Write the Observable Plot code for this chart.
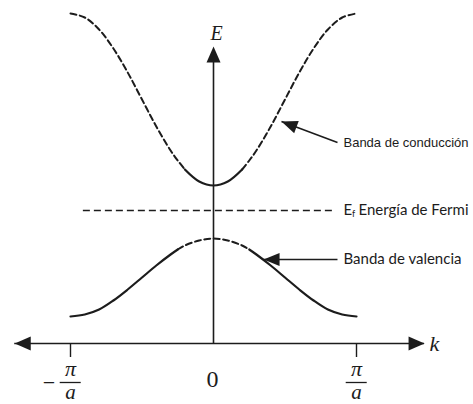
<!DOCTYPE html>
<html>
<head>
<meta charset="utf-8">
<script src="https://cdn.jsdelivr.net/npm/d3@7"></script>
<script src="https://cdn.jsdelivr.net/npm/@observablehq/plot@0.6"></script>
<style>
  html, body { margin: 0; padding: 0; background: #fff; }
</style>
</head>
<body>
<div id="chart"></div>
<script>
// Wave vector k, in units of π/a
const k = [-1, -0.9, -0.8, -0.7, -0.6, -0.5, -0.4, -0.3, -0.25, -0.2, -0.1, 0,
           0.1, 0.2, 0.25, 0.3, 0.4, 0.5, 0.6, 0.7, 0.8, 0.9, 1];
// Band energies (arbitrary units, k axis at E = 0)
const conduction = [3.30, 3.26, 3.14, 2.95, 2.71, 2.44, 2.17, 1.93, 1.83, 1.74, 1.62, 1.58,
                    1.62, 1.74, 1.83, 1.93, 2.17, 2.44, 2.71, 2.95, 3.14, 3.26, 3.30];
const valence = [0.27, 0.29, 0.34, 0.43, 0.54, 0.66, 0.78, 0.89, 0.94, 0.98, 1.03, 1.05,
                 1.03, 0.98, 0.94, 0.89, 0.78, 0.66, 0.54, 0.43, 0.34, 0.29, 0.27];
// |k| limits of the solid part of the conduction band and the dashed part of the valence band
const conductionSolidLimit = 0.2;
const valenceDashedLimit = 0.25;
// Fermi level and its extent in k
const fermiEnergy = 1.33;
const fermiSpan = [-0.91, 0.84];
// Axes extents
const kAxisSpan = [-1.39, 1.476];
const eAxisTop = 2.97;
// Zone-edge ticks
const zoneTicks = [-1, 1];
const centerTick = [0];
// Annotations
const annotationText = ["Banda de conducción", "Banda de valencia"];
const annotationE = [2.01, 0.84];
const annotationTipK = [0.4755, 0.35];
const annotationTipE = [2.22, 0.84];
const annotationTailK = 0.867;
const labelK = 0.909;

const W = 473, H = 404;
const xDomain = [-213 / 143, 260 / 143];
const yDomain = [-0.61, 3.43];
const pxPerK = W / (xDomain[1] - xDomain[0]);
const pxPerE = H / (yDomain[1] - yDomain[0]);
const ink = "#1c1c1c";

// Split a band into pieces so inner and outer parts can be styled differently
function pieces(values, limit, name) {
  const rows = [];
  k.forEach((kv, i) => {
    const E = values[i];
    if (kv <= -limit) rows.push({k: kv, E, seg: name + "L", part: "outer"});
    if (kv >= -limit && kv <= limit) rows.push({k: kv, E, seg: name + "C", part: "inner"});
    if (kv >= limit) rows.push({k: kv, E, seg: name + "R", part: "outer"});
  });
  return rows;
}
const cRows = pieces(conduction, conductionSolidLimit, "c");
const vRows = pieces(valence, valenceDashedLimit, "v");
const dashedRows = [...cRows.filter(d => d.part === "outer"), ...vRows.filter(d => d.part === "inner")];
const solidRows = [...cRows.filter(d => d.part === "inner"), ...vRows.filter(d => d.part === "outer")];

// Filled arrowhead with its tip at the origin, pointing up
function arrowhead(len, wid) {
  return {
    draw(context) {
      context.moveTo(0, 0);
      context.lineTo(wid / 2, len);
      context.lineTo(-wid / 2, len);
      context.closePath();
    }
  };
}
function heading(k0, e0, k1, e1) {
  const dx = (k1 - k0) * pxPerK;
  const dy = -(e1 - e0) * pxPerE;
  return Math.atan2(dx, -dy) * 180 / Math.PI;
}

const axisHeads = [
  {k: kAxisSpan[0], E: 0, rotate: -90},
  {k: kAxisSpan[1], E: 0, rotate: 90},
  {k: 0, E: eAxisTop, rotate: 0}
];
const annotations = annotationText.map((text, i) => ({
  text,
  E: annotationE[i],
  tipK: annotationTipK[i],
  tipE: annotationTipE[i],
  rotate: heading(annotationTailK, annotationE[i], annotationTipK[i], annotationTipE[i])
}));

const serif = "'Liberation Serif', 'DejaVu Serif', serif";
const humanist = "Lato, 'Open Sans', sans-serif";

const chart = Plot.plot({
  width: W,
  height: H,
  margin: 0,
  x: {domain: xDomain, axis: null},
  y: {domain: yDomain, axis: null},
  style: {background: "#fff"},
  marks: [
    // k axis and E axis
    Plot.ruleY([{E: 0, k1: kAxisSpan[0], k2: kAxisSpan[1]}], {y: "E", x1: "k1", x2: "k2", stroke: ink, strokeWidth: 1.6}),
    Plot.ruleX([{k: 0, e1: 0, e2: eAxisTop - 0.05}], {x: "k", y1: "e1", y2: "e2", stroke: ink, strokeWidth: 1.6}),
    Plot.dot(axisHeads, {x: "k", y: "E", rotate: "rotate", symbol: arrowhead(16, 14), r: 5, fill: ink, stroke: "none"}),
    // zone-edge ticks
    Plot.ruleX(zoneTicks, {x: d => d, y1: 0, y2: -0.14, stroke: ink, strokeWidth: 1.4}),
    // bands
    Plot.line(dashedRows, {x: "k", y: "E", z: "seg", curve: "catmull-rom", stroke: ink, strokeWidth: 2, strokeDasharray: "6,3.5"}),
    Plot.line(solidRows, {x: "k", y: "E", z: "seg", curve: "catmull-rom", stroke: ink, strokeWidth: 2.2}),
    // Fermi level
    Plot.ruleY([{E: fermiEnergy, k1: fermiSpan[0], k2: fermiSpan[1]}], {y: "E", x1: "k1", x2: "k2", stroke: ink, strokeWidth: 1.5, strokeDasharray: "7,4"}),
    // annotation arrows
    Plot.link(annotations, {x1: annotationTailK, y1: "E", x2: "tipK", y2: "tipE", stroke: ink, strokeWidth: 1.6}),
    Plot.dot(annotations, {x: "tipK", y: "tipE", rotate: "rotate", symbol: arrowhead(16, 13), r: 5, fill: ink, stroke: "none"}),
    // annotation labels
    Plot.text([annotations[0]], {x: labelK, y: "E", text: "text", textAnchor: "start", fontFamily: "'Liberation Sans', Arial, sans-serif", fontSize: 13, fill: ink}),
    Plot.text([annotations[1]], {x: labelK, y: "E", text: "text", textAnchor: "start", fontFamily: humanist, fontSize: 15, fill: ink}),
    Plot.text([fermiEnergy], {x: labelK, y: d => d, text: ["E"], textAnchor: "start", fontFamily: humanist, fontSize: 15, fill: ink}),
    Plot.text([fermiEnergy], {x: labelK, y: d => d, text: ["f"], dx: 8.5, dy: 4, textAnchor: "start", fontFamily: humanist, fontSize: 9, fill: ink}),
    Plot.text([fermiEnergy], {x: labelK, y: d => d, text: ["Energía de Fermi"], dx: 15, textAnchor: "start", fontFamily: humanist, fontSize: 15, fill: ink}),
    // axis titles
    Plot.text(["E"], {x: 0, y: 3.10, text: d => d, dx: 3, fontFamily: serif, fontStyle: "italic", fontSize: 20, fill: ink}),
    Plot.text(["k"], {x: 1.545, y: 0, text: d => d, fontFamily: serif, fontStyle: "italic", fontSize: 22, fill: ink}),
    // tick labels: ±π/a and 0
    Plot.text(zoneTicks, {x: d => d, y: -0.255, text: () => "π", fontFamily: serif, fontStyle: "italic", fontSize: 22, fill: ink}),
    Plot.text(zoneTicks, {x: d => d, y: -0.49, text: () => "a", fontFamily: serif, fontStyle: "italic", fontSize: 21, fill: ink}),
    Plot.ruleY(zoneTicks, {y: -0.39, x1: d => d - 0.072, x2: d => d + 0.075, stroke: ink, strokeWidth: 1.3}),
    Plot.text(zoneTicks.filter(t => t < 0), {x: d => d - 0.15, y: -0.39, text: () => "−", fontFamily: serif, fontSize: 22, fill: ink}),
    Plot.text(centerTick, {x: d => d, y: -0.36, text: d => String(d), dx: -1, fontFamily: serif, fontSize: 24, fill: ink})
  ]
});
document.getElementById("chart").appendChild(chart);
</script>
</body>
</html>
